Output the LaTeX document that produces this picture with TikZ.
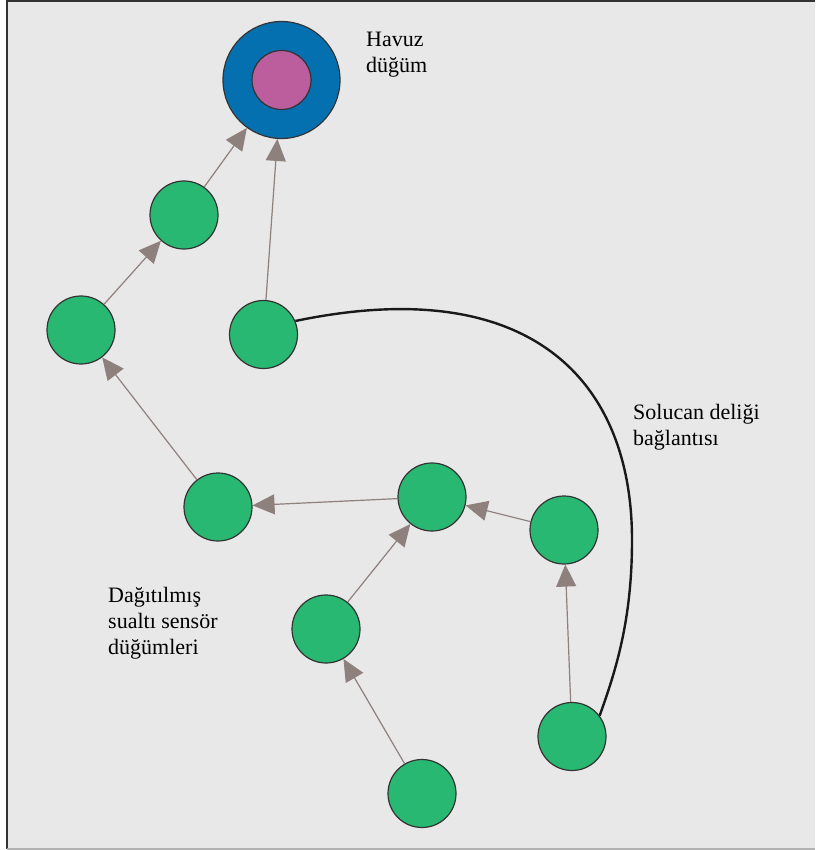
\documentclass[tikz,border=0pt]{standalone}
\usepackage{fontspec}
\setmainfont{Liberation Serif}
\newfontfamily\notefont{Liberation Serif}
\usetikzlibrary{arrows.meta}

\definecolor{bgcol}{HTML}{E8E8E8}
\definecolor{sensorgreen}{HTML}{28B872}
\definecolor{sinkblue}{HTML}{0570B0}
\definecolor{sinkpink}{HTML}{BC5E9E}
\definecolor{nodeedge}{HTML}{333333}
\definecolor{linkgrey}{HTML}{8E807D}

\tikzset{
  sensor/.style={circle, draw=nodeedge, line width=1.2pt, fill=sensorgreen, minimum size=68pt, inner sep=0pt},
  sinkring/.style={circle, draw=nodeedge, line width=1.2pt, fill=sinkblue, minimum size=117pt, inner sep=0pt},
  sinkcore/.style={circle, draw=nodeedge, line width=1.2pt, fill=sinkpink, minimum size=59pt, inner sep=0pt},
  link/.style={draw=linkgrey, line width=1.2pt, -{Triangle[length=22pt,width=20pt]}},
  wormhole/.style={draw=black!90, line width=2.4pt},
  notetext/.style={align=left, inner sep=0pt, anchor=base west, font=\notefont\fontsize{22}{26}\selectfont}
}

\begin{document}
\begin{tikzpicture}[x=1pt, y=-1pt]
\useasboundingbox (0,0) rectangle (815,850);
% frame
\fill[white] (0,0) rectangle (815,850);
\fill[bgcol] (7,0) rectangle (815,849);
\draw[nodeedge, line width=2pt] (7,1) -- (815,1);
\draw[nodeedge, line width=2pt] (7,0) -- (7,849);
\draw[black!30, line width=1.5pt] (7,849) -- (815,849);

% sink
\node[sinkring] (sink) at (281.5,80) {};
\node[sinkcore] (sinkcore) at (281.5,80) {};

% sensors
\node[sensor] (s1) at (184,215) {};
\node[sensor] (s2) at (81,330) {};
\node[sensor] (s3) at (263.5,334.5) {};
\node[sensor] (s4) at (218,507) {};
\node[sensor] (s5) at (432,497) {};
\node[sensor] (s6) at (564,530) {};
\node[sensor] (s7) at (326,629) {};
\node[sensor] (s8) at (422,793.5) {};
\node[sensor] (s9) at (572,736.5) {};

% routes towards the sink
\draw[link] (s1) -- (sink);
\draw[link] (s3) -- (sink);
\draw[link] (s2) -- (s1);
\draw[link] (s4) -- (s2);
\draw[link] (s5) -- (s4);
\draw[link] (s6) -- (s5);
\draw[link] (s7) -- (s5);
\draw[link] (s8) -- (s7);
\draw[link] (s9) -- (s6);

% wormhole link
\draw[wormhole] (s3.23) .. controls (530,272) and (632,380) .. (632,540)
  .. controls (632,620) and (616,670) .. (s9.37);

% labels (anchored at the last line)
\node[notetext] (sinklabel) at (366,73) {Havuz\\düğüm};
\node[notetext] (wormlabel) at (633,445) {Solucan deliği\\bağlantısı};
\node[notetext] (sensorlabel) at (108,654) {Dağıtılmış\\sualtı sensör\\düğümleri};
\end{tikzpicture}
\end{document}
